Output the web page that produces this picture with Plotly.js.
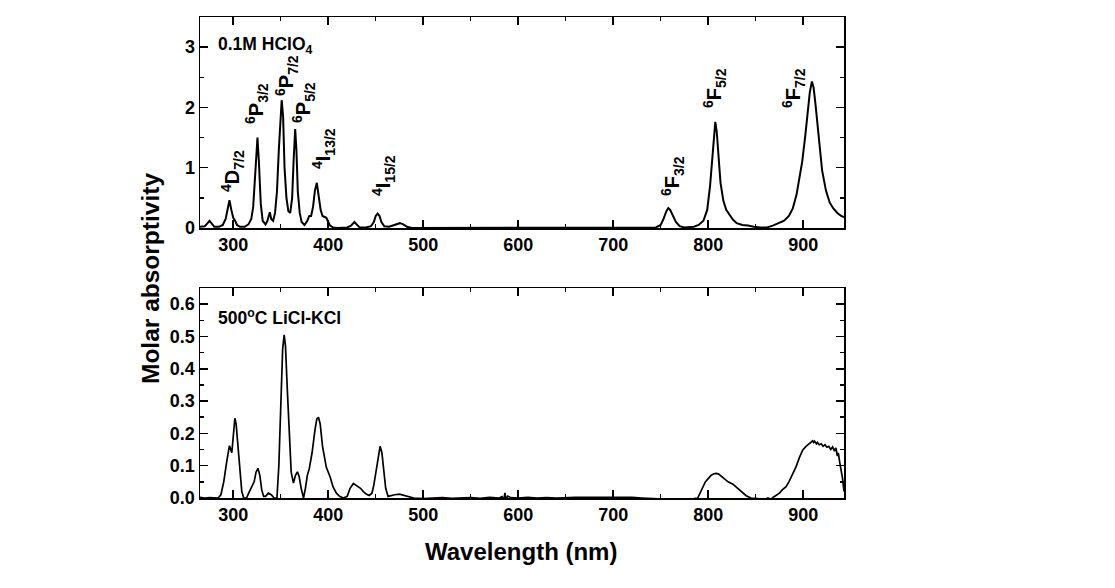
<!DOCTYPE html>
<html>
<head>
<meta charset="utf-8">
<script src="https://cdn.plot.ly/plotly-3.0.1.min.js"></script>
<style>
  html, body { margin: 0; padding: 0; background: #fff; }
  #chart { width: 1115px; height: 588px; }
</style>
</head>
<body>
<div id="chart"></div>
<script>
// top panel: 0.1M HClO4
let wl_top = [265, 270, 273, 275, 277, 280, 285, 289, 292, 294, 296, 298, 300, 302, 304, 307,
  312, 316, 319, 321, 323, 325.5, 327, 329, 331, 334, 336, 338.5, 340, 342, 344, 346, 348, 350,
  351, 352.5, 354, 356, 358, 360, 362, 363.5, 365.2, 366.5, 368, 370, 372, 375, 378, 380, 382,
  384, 386, 388, 390, 392, 394, 396, 398, 400, 402, 405, 410, 420, 424, 427.5, 430, 433, 440,
  445, 448, 450, 452, 454, 456, 459, 464, 468, 472, 475.5, 479, 483, 488, 500, 600, 700, 740,
  745, 750, 753, 756, 758, 760, 763, 766, 770, 775, 785, 790, 795, 799, 802, 804.5, 806.5, 807.5,
  809, 811, 813, 816, 819, 822.5, 826, 830, 836, 842, 848, 855, 862, 868, 875, 880, 885, 889,
  893, 896, 899, 902, 905, 907, 909.2, 911, 913, 915, 917, 920, 924, 928, 932, 936, 940, 943];
let abs_top = [0.02, 0.03, 0.08, 0.12, 0.08, 0.02, 0.02, 0.05, 0.15, 0.32, 0.46, 0.3, 0.17, 0.12, 0.05, 0.02,
  0.02, 0.06, 0.15, 0.35, 0.9, 1.5, 1.1, 0.4, 0.12, 0.06, 0.12, 0.26, 0.15, 0.12, 0.25, 0.6, 1.3, 1.9,
  2.12, 1.85, 1.0, 0.5, 0.28, 0.25, 0.5, 1.1, 1.64, 1.3, 0.6, 0.25, 0.1, 0.05, 0.12, 0.2, 0.2,
  0.35, 0.62, 0.75, 0.55, 0.3, 0.2, 0.19, 0.17, 0.1, 0.04, 0.01, 0.0, 0.01, 0.04, 0.1, 0.05, 0.01, 0.01,
  0.03, 0.1, 0.2, 0.24, 0.2, 0.1, 0.03, 0.02, 0.04, 0.07, 0.08, 0.06, 0.02, 0.0, 0.0, 0.0, 0.0, 0.0,
  0.01, 0.05, 0.15, 0.28, 0.33, 0.3, 0.2, 0.1, 0.03, 0.01, 0.02, 0.05, 0.12, 0.3, 0.7, 1.2, 1.65, 1.76,
  1.6, 1.15, 0.75, 0.45, 0.3, 0.22, 0.14, 0.08, 0.05, 0.04, 0.02, 0.01, 0.01, 0.04, 0.09, 0.12, 0.2, 0.32,
  0.55, 0.8, 1.1, 1.5, 1.95, 2.25, 2.43, 2.33, 2.05, 1.7, 1.35, 0.95, 0.62, 0.42, 0.32, 0.25, 0.2, 0.18];

// bottom panel: 500 C LiCl-KCl melt
let wl_bot = [265, 270, 275, 280, 284, 287, 290, 293, 296, 298.5, 300, 301.7, 303, 305, 307, 309, 311,
  314, 317, 319.5, 322, 324, 326, 328, 330, 332, 334, 337, 340, 343, 346, 348, 350, 352, 353.6, 355,
  357, 359, 361, 363.4, 365.5, 367.6, 369.5, 371.5, 374, 376, 378, 380, 383, 386, 388, 389.7, 391.5,
  394, 398, 402, 405, 408.6, 412, 416, 420, 423, 426.5, 429, 431.7, 434, 437, 440, 443, 446, 448, 450,
  452, 454.6, 456.5, 458.5, 460.5, 463, 466, 470, 475, 480, 485, 490, 500, 510, 520, 530, 540, 550,
  560, 570, 580, 583, 585, 586, 587, 589, 592, 600, 610, 620, 630, 640, 660, 680, 700, 710, 720, 730,
  740, 750, 760, 765, 770, 780, 785, 789, 792, 794, 797, 800, 803, 806, 808.6, 811, 814, 817, 821,
  826, 830, 833, 836.5, 840, 845, 850, 855, 860, 863, 866, 869, 872, 875, 878, 882, 885, 889, 892.6,
  896, 899.6, 903, 906, 908, 910, 911, 912, 914, 915, 917, 919, 921, 923, 925, 927, 929, 931, 933,
  934.5, 936, 937, 938.5, 940, 941.5, 943];
let abs_bot = [0.002, 0.0, 0.001, 0.0, 0.0, 0.01, 0.05, 0.11, 0.162, 0.14, 0.2, 0.247, 0.23, 0.15, 0.07, 0.02, 0.0,
  0.0, 0.02, 0.035, 0.05, 0.08, 0.092, 0.07, 0.025, 0.005, 0.005, 0.015, 0.01, 0.0, 0.0, 0.1, 0.3, 0.46, 0.505, 0.47,
  0.33, 0.18, 0.08, 0.046, 0.07, 0.081, 0.065, 0.03, 0.0, 0.03, 0.07, 0.09, 0.14, 0.21, 0.245, 0.25, 0.23,
  0.16, 0.095, 0.065, 0.035, 0.015, 0.005, 0.0, 0.005, 0.03, 0.045, 0.04, 0.035, 0.03, 0.02, 0.012, 0.008, 0.015, 0.04, 0.08,
  0.12, 0.16, 0.14, 0.08, 0.03, 0.005, 0.008, 0.01, 0.012, 0.008, 0.002, 0.0, -0.002, 0.0, 0.001, -0.001, 0.0, 0.001,
  -0.001, 0.002, 0.0, 0.004, -0.006, 0.016, -0.004, 0.006, 0.001, 0.0, 0.002, 0.0, 0.001, 0.0, 0.002, 0.002, 0.003, 0.004, 0.002, 0.0,
  -0.002, -0.004, -0.006, -0.005, -0.004, -0.004, -0.002, 0.0, 0.02, 0.035, 0.05, 0.06, 0.07, 0.075, 0.076, 0.074, 0.066, 0.059, 0.05,
  0.043, 0.033, 0.025, 0.015, 0.007, 0.0, -0.002, -0.003, -0.004, 0.0, -0.004, 0.003, 0.01, 0.015, 0.025, 0.035, 0.05, 0.075, 0.097,
  0.125, 0.149, 0.16, 0.168, 0.173, 0.177, 0.172, 0.176, 0.168, 0.172, 0.165, 0.168, 0.16, 0.165, 0.157, 0.16, 0.15, 0.158, 0.145,
  0.155, 0.13, 0.14, 0.11, 0.09, 0.06, 0.02];

// peak assignments in the top panel
let peak_labels = ["<sup>4</sup>D<sub>7/2</sub>", "<sup>6</sup>P<sub>3/2</sub>", "<sup>6</sup>P<sub>7/2</sub>",
  "<sup>6</sup>P<sub>5/2</sub>", "<sup>4</sup>I<sub>13/2</sub>", "<sup>4</sup>I<sub>15/2</sub>",
  "<sup>6</sup>F<sub>3/2</sub>", "<sup>6</sup>F<sub>5/2</sub>", "<sup>6</sup>F<sub>7/2</sub>"];
let peak_px = [[232, 171], [257, 104], [286, 76], [303, 103], [323, 149], [383, 176], [672, 176], [715, 88], [794, 88]];

let W = 1115, H = 588;
let font_family = "Liberation Sans, Arial, sans-serif";

function axis_common() {
  return {
    range: [265, 943],
    showline: true,
    linewidth: 1.5,
    linecolor: "black",
    mirror: "ticks",
    ticks: "inside",
    ticklen: 8,
    tickwidth: 1.5,
    tickcolor: "black",
    showgrid: false,
    zeroline: false,
    tickfont: { family: font_family, size: 18, color: "black", weight: "bold" },
  };
}

let xaxis = Object.assign(axis_common(), {
  domain: [200 / W, 844 / W],
  anchor: "y",
  tickvals: [300, 400, 500, 600, 700, 800, 900],
  minor: { dtick: 50, tick0: 250, ticks: "inside", ticklen: 4, tickwidth: 1.5, tickcolor: "black" },
});
let xaxis2 = Object.assign(axis_common(), {
  domain: [200 / W, 844 / W],
  anchor: "y2",
  tickvals: [300, 400, 500, 600, 700, 800, 900],
  minor: { dtick: 50, tick0: 250, ticks: "inside", ticklen: 4, tickwidth: 1.5, tickcolor: "black" },
});
let yaxis = Object.assign(axis_common(), {
  domain: [1 - 498 / H, 1 - 288 / H],
  anchor: "x",
  range: [0, 0.65],
  dtick: 0.1,
  tick0: 0,
  tickformat: ".1f",
  minor: { dtick: 0.05, ticks: "inside", ticklen: 4, tickwidth: 1.5, tickcolor: "black" },
});
let yaxis2 = Object.assign(axis_common(), {
  domain: [1 - 228 / H, 1 - 17 / H],
  anchor: "x2",
  range: [0, 3.5],
  dtick: 1,
  tick0: 0,
  minor: { dtick: 0.5, ticks: "inside", ticklen: 4, tickwidth: 1.5, tickcolor: "black" },
});

let data = [
  { x: wl_top, y: abs_top, xaxis: "x2", yaxis: "y2", mode: "lines", type: "scatter",
    line: { color: "black", width: 2 }, hoverinfo: "skip" },
  { x: wl_bot, y: abs_bot, xaxis: "x", yaxis: "y", mode: "lines", type: "scatter",
    line: { color: "black", width: 1.7 }, hoverinfo: "skip" },
];

let annotations = [
  { text: "0.1M HClO<sub>4</sub>", x: 216 / W, y: 1 - 45 / H, xanchor: "left", yanchor: "middle",
    font: { family: font_family, size: 17.5, color: "black", weight: "bold" } },
  { text: "500<sup>o</sup>C LiCl-KCl", x: 216 / W, y: 1 - 317 / H, xanchor: "left", yanchor: "middle",
    font: { family: font_family, size: 17.5, color: "black", weight: "bold" } },
  { text: "Molar absorptivity", x: 150 / W, y: 1 - 279 / H, textangle: -90, xanchor: "center", yanchor: "middle",
    font: { family: font_family, size: 24.5, color: "black", weight: "bold" } },
  { text: "Wavelength (nm)", x: 521 / W, y: 1 - 551 / H, xanchor: "center", yanchor: "middle",
    font: { family: font_family, size: 24, color: "black", weight: "bold" } },
];
for (let i = 0; i < peak_labels.length; i++) {
  annotations.push({
    text: peak_labels[i],
    x: peak_px[i][0] / W,
    y: 1 - peak_px[i][1] / H,
    textangle: -90,
    xanchor: "center",
    yanchor: "middle",
    font: { family: font_family, size: 20, color: "black", weight: "bold" },
  });
}
annotations.forEach(function (a) {
  a.xref = "paper";
  a.yref = "paper";
  a.showarrow = false;
});

let layout = {
  width: W,
  height: H,
  margin: { l: 0, r: 0, t: 0, b: 0 },
  paper_bgcolor: "white",
  plot_bgcolor: "white",
  showlegend: false,
  xaxis: xaxis,
  yaxis: yaxis,
  xaxis2: xaxis2,
  yaxis2: yaxis2,
  annotations: annotations,
};

Plotly.newPlot("chart", data, layout, { staticPlot: true });
</script>
</body>
</html>
